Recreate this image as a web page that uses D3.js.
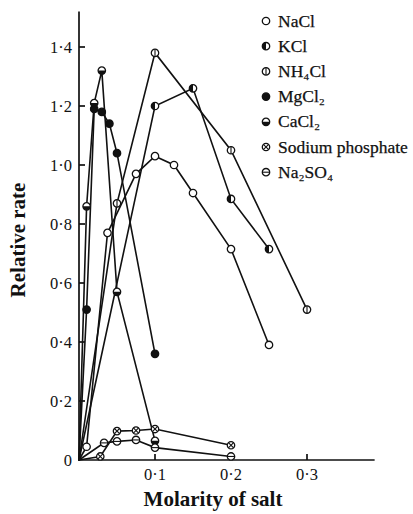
<!DOCTYPE html>
<html>
<head>
<meta charset="utf-8">
<script src="https://d3js.org/d3.v7.min.js"></script>
<style>
  body { margin: 0; background: #fff; }
  svg { display: block; }
  text { font-family: 'Liberation Serif', 'Times New Roman', serif; fill: #111; }
</style>
</head>
<body>
<script>
// values: [molarity, relative rate]
const salts = ['NaCl', 'KCl', 'NH\u2084Cl', 'MgCl\u2082', 'CaCl\u2082', 'Sodium phosphate', 'Na\u2082SO\u2084'];
const markerKinds = ['open', 'leftHalf', 'vbar', 'filled', 'bottomHalf', 'cross', 'hbar'];

const nacl = [[0, 0], [0.01, 0.045], [0.0375, 0.77], [0.075, 0.97], [0.1, 1.03], [0.125, 1.0], [0.15, 0.905], [0.2, 0.715], [0.25, 0.39]];
const kcl = [[0, 0], [0.1, 1.2], [0.15, 1.26], [0.2, 0.885], [0.25, 0.715]];
const nh4cl = [[0, 0], [0.05, 0.87], [0.1, 1.38], [0.2, 1.05], [0.3, 0.51]];
const mgcl2 = [[0, 0], [0.01, 0.51], [0.02, 1.19], [0.03, 1.18], [0.04, 1.14], [0.05, 1.04], [0.1, 0.36]];
const cacl2 = [[0, 0], [0.01, 0.86], [0.02, 1.21], [0.03, 1.32], [0.05, 0.57], [0.1, 0.065]];
const phosphate = [[0, 0], [0.028, 0.012], [0.05, 0.098], [0.075, 0.1], [0.1, 0.105], [0.2, 0.05]];
const na2so4 = [[0, 0], [0.033, 0.058], [0.05, 0.063], [0.075, 0.068], [0.1, 0.042], [0.2, 0.012]];
const seriesData = [nacl, kcl, nh4cl, mgcl2, cacl2, phosphate, na2so4];

const xTicks = [0.1, 0.2, 0.3];
const yTicks = [0, 0.2, 0.4, 0.6, 0.8, 1.0, 1.2, 1.4];

const width = 413, height = 514;
const svg = d3.select('body').append('svg').attr('width', width).attr('height', height);

const x = d3.scaleLinear().domain([0, 0.3]).range([79, 307]);
const y = d3.scaleLinear().domain([0, 1.4]).range([460, 47]);
const dot = v => v === 0 ? '0' : d3.format('.1f')(v).replace('.', '\u00b7');

// axes: plain lines with inward ticks
const axes = svg.append('g').attr('stroke', '#111').attr('stroke-width', 1.7);
axes.append('line').attr('x1', x(0)).attr('x2', x(0)).attr('y1', y(1.52)).attr('y2', y(0) + 1);
axes.append('line').attr('x1', x(0) - 1).attr('x2', x(0.389)).attr('y1', y(0)).attr('y2', y(0));
axes.selectAll('.yt').data(yTicks.filter(d => d > 0)).join('line')
  .attr('x1', x(0)).attr('x2', x(0) + 6).attr('y1', d => y(d)).attr('y2', d => y(d));
axes.selectAll('.xt').data(xTicks).join('line')
  .attr('x1', d => x(d)).attr('x2', d => x(d)).attr('y1', y(0)).attr('y2', y(0) - 6);

svg.selectAll('.ylab').data(yTicks).join('text')
  .attr('x', x(0) - 7).attr('y', d => y(d) + 5.5)
  .attr('text-anchor', 'end').attr('font-size', 16.5).text(dot);
svg.selectAll('.xlab').data(xTicks).join('text')
  .attr('x', d => x(d)).attr('y', y(0) + 20)
  .attr('text-anchor', 'middle').attr('font-size', 16.5).text(dot);

svg.append('text').attr('x', 213).attr('y', 506).attr('text-anchor', 'middle')
  .attr('font-size', 21).attr('font-weight', 'bold').text('Molarity of salt');
svg.append('text').attr('transform', 'translate(25,240) rotate(-90)').attr('text-anchor', 'middle')
  .attr('font-size', 21).attr('font-weight', 'bold').text('Relative rate');

// series lines
const line = d3.line().x(d => x(d[0])).y(d => y(d[1]));
svg.append('g').selectAll('path').data(seriesData).join('path')
  .attr('d', line).attr('fill', 'none').attr('stroke', '#111').attr('stroke-width', 1.6);

function marker(g, kind, r) {
  const arc = d3.arc().innerRadius(0).outerRadius(r);
  g.append('circle').attr('r', r).attr('fill', kind === 'filled' ? '#111' : '#fff')
    .attr('stroke', '#111').attr('stroke-width', 1.3);
  if (kind === 'leftHalf') g.append('path').attr('d', arc({ startAngle: Math.PI, endAngle: 2 * Math.PI })).attr('fill', '#111');
  if (kind === 'bottomHalf') g.append('path').attr('d', arc({ startAngle: Math.PI / 2, endAngle: 1.5 * Math.PI })).attr('fill', '#111');
  const s = g.append('g').attr('stroke', '#111').attr('stroke-width', 1.1);
  if (kind === 'vbar') s.append('line').attr('y1', -r).attr('y2', r);
  if (kind === 'hbar') s.append('line').attr('x1', -r).attr('x2', r);
  if (kind === 'cross') {
    const k = r * 0.7;
    s.append('line').attr('x1', -k).attr('y1', -k).attr('x2', k).attr('y2', k);
    s.append('line').attr('x1', -k).attr('y1', k).attr('x2', k).attr('y2', -k);
  }
}

seriesData.forEach((data, i) => {
  data.filter(d => d[0] > 0).forEach(d => {
    marker(svg.append('g').attr('transform', `translate(${x(d[0])},${y(d[1])})`), markerKinds[i], 3.7);
  });
});

// legend
const legend = svg.append('g');
salts.forEach((name, i) => {
  const ly = 21 + i * 25.2;
  marker(legend.append('g').attr('transform', `translate(266,${ly})`), markerKinds[i], 3.7);
  legend.append('text').attr('x', 278).attr('y', ly + 5.5).attr('font-size', 17.5)
    .attr('stroke', '#111').attr('stroke-width', 0.25).text(name);
});
</script>
</body>
</html>
